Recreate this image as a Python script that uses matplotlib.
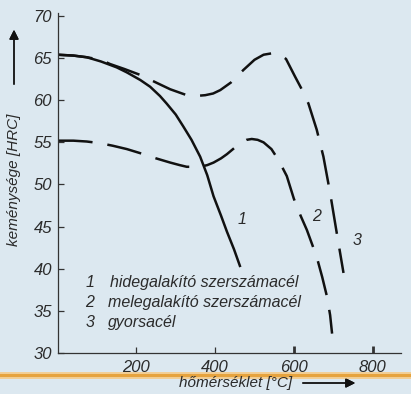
import matplotlib
matplotlib.use("Agg")
import matplotlib.pyplot as plt
from matplotlib.lines import Line2D

plt.rcParams['font.family'] = ['Liberation Sans', 'DejaVu Sans']
plt.rcParams['font.style'] = 'italic'

# curve 1: hidegalakító szerszámacél (solid)
x1 = [0, 40, 74, 110, 150, 176, 210, 235, 260, 277, 300, 319, 340, 362, 380, 396, 415, 430, 448, 464]
y1 = [65.4, 65.3, 65.1, 64.6, 63.9, 63.3, 62.4, 61.6, 60.5, 59.6, 58.3, 56.9, 55.3, 53.3, 51.1,
      48.6, 46.3, 44.4, 42.3, 40.2]

# curve 2: melegalakító szerszámacél (dashed, lower)
x2 = [0, 40, 74, 108, 140, 176, 218, 250, 286, 310, 328, 362, 380, 396, 415, 430, 448, 464, 480,
      493, 508, 523, 543, 561, 582, 600, 617, 633, 658, 672, 684, 692, 697]
y2 = [55.2, 55.2, 55.1, 54.9, 54.6, 54.2, 53.6, 53.1, 52.6, 52.3, 52.1, 52.1, 52.3, 52.6, 53.1,
      53.6, 54.3, 54.9, 55.3, 55.4, 55.3, 55.0, 54.2, 52.9, 51.0, 48.3, 46.3, 44.6, 41.4, 39.0,
      36.7, 34.5, 32.3]

# curve 3: gyorsacél (dashed, upper)
x3 = [0, 40, 74, 110, 133, 170, 210, 250, 286, 310, 328, 350, 375, 395, 413, 440, 472, 500, 523,
      548, 565, 580, 603, 620, 637, 658, 675, 692, 709, 726]
y3 = [65.4, 65.3, 65.1, 64.8, 64.3, 63.7, 63.0, 62.1, 61.3, 60.9, 60.6, 60.5, 60.6, 60.8, 61.2,
      62.1, 63.6, 64.8, 65.4, 65.6, 65.4, 64.9, 62.8, 61.3, 59.6, 56.5, 53.3, 49.0, 44.2, 39.5]

curve_labels = ["1", "2", "3"]
label_x = [468, 658, 760]
label_y = [45.8, 46.2, 43.4]

legend_nums = ["1", "2", "3"]
legend_names = ["hidegalakító szerszámacél", "melegalakító szerszámacél", "gyorsacél"]

xticks = [200, 400, 600, 800]
yticks = [30, 35, 40, 45, 50, 55, 60, 65, 70]

bg = '#dce8f0'
ink = '#111111'
txt = '#2b2b2b'

fig = plt.figure(figsize=(4.11, 3.94), dpi=100, facecolor=bg)
W, H = 411, 394
ax = fig.add_axes([57.6 / W, 41 / H, (401 - 57.6) / W, (353 - 12.6) / H])
ax.set_facecolor(bg)

ax.plot(x1, y1, color=ink, lw=1.8, solid_capstyle='butt', solid_joinstyle='round')
ax.plot(x2, y2, color=ink, lw=1.8, linestyle=(0, (14, 6)), dash_capstyle='butt',
        dash_joinstyle='round')
ax.plot(x3, y3, color=ink, lw=1.8, linestyle=(0, (14, 6)), dash_capstyle='butt',
        dash_joinstyle='round')

for t, lx, ly in zip(curve_labels, label_x, label_y):
    ax.text(lx, ly, t, fontsize=11.5, color=txt, ha='center', va='center')

# key of the curves
for i, (n, name) in enumerate(zip(legend_nums, legend_names)):
    yy = 38.4 - i * 2.4
    ax.text(82, yy, n, fontsize=11.5, color=txt, ha='center', va='center')
    ax.text(133 if i == 0 else 128, yy, name, fontsize=11.5, color=txt, ha='left', va='center')

ax.set_xlim(0, 872)
ax.set_ylim(30, 70.4)
ax.set_xticks(xticks)
ax.set_yticks(yticks)
ax.spines['top'].set_visible(False)
ax.spines['right'].set_visible(False)
for s in ['left', 'bottom']:
    ax.spines[s].set_color('#333333')
    ax.spines[s].set_linewidth(0.9)
ax.tick_params(axis='both', direction='in', colors='#333333', labelcolor=txt,
               labelsize=12, width=0.9, length=4, pad=4)
ax.tick_params(axis='x', pad=5)
for tl in ax.xaxis.get_major_ticks()[2:]:
    tl.tick1line.set_markeredgewidth(2)
    tl.tick1line.set_markersize(5)

# y axis label with arrow
fig.text(14 / W, 1 - 180 / H, "keménysége [HRC]", rotation=90, fontsize=11,
         color=txt, ha='center', va='center')
fig.add_artist(plt.annotate("", xy=(14 / W, 1 - 27 / H), xytext=(14 / W, 1 - 87 / H),
                            xycoords='figure fraction', textcoords='figure fraction',
                            arrowprops=dict(arrowstyle='-|>', color=ink, lw=1,
                                            mutation_scale=14)))

# orange rule
fig.add_artist(Line2D([0, 1], [1 - 375 / H, 1 - 375 / H], transform=fig.transFigure,
                      color='#f2cf96', lw=5))
fig.add_artist(Line2D([0, 1], [1 - 375 / H, 1 - 375 / H], transform=fig.transFigure,
                      color='#e6a33e', lw=2.2))

# x axis label with arrow
fig.text(236 / W, 1 - 383 / H, "hőmérséklet [°C]", fontsize=11, color=txt,
         ha='center', va='center')
fig.add_artist(plt.annotate("", xy=(358 / W, 1 - 383 / H), xytext=(300 / W, 1 - 383 / H),
                            xycoords='figure fraction', textcoords='figure fraction',
                            arrowprops=dict(arrowstyle='-|>', color=ink, lw=1,
                                            mutation_scale=14)))

fig.savefig("out.png", dpi=100, facecolor=bg)
